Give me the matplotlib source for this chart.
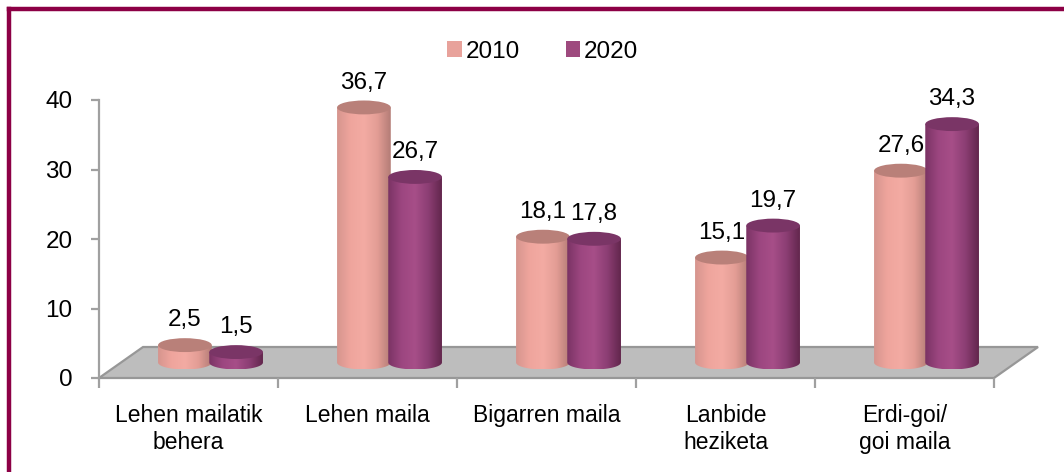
import numpy as np
import matplotlib
matplotlib.use("Agg")
import matplotlib.pyplot as plt
import matplotlib.patches as patches
from matplotlib.path import Path
from matplotlib.colors import LinearSegmentedColormap

plt.rcParams['font.family'] = ['Liberation Sans Narrow', 'Liberation Sans', 'DejaVu Sans']

# data
categories = ["Lehen mailatik\nbehera", "Lehen maila", "Bigarren maila",
              "Lanbide\nheziketa", "Erdi-goi/\ngoi maila"]
years = ["2010", "2020"]
values_2010 = [2.5, 36.7, 18.1, 15.1, 27.6]
values_2020 = [1.5, 26.7, 17.8, 19.7, 34.3]
yticks = [0, 10, 20, 30, 40]

# styles
legend_colors = ["#E8A29B", "#9E4A7E"]
body_cmaps = [
    LinearSegmentedColormap.from_list("c2010", ["#D6958E", "#EFA59D", "#F3ABA3", "#E39D95", "#B37C76"]),
    LinearSegmentedColormap.from_list("c2020", ["#7A3364", "#9C4680", "#A74E88", "#8C3E74", "#62264C"]),
]
top_colors = ["#B98079", "#7A3566"]

# 3d-ish geometry (data units)
floor_dx, floor_dy = 0.246, 4.46
bar_w = 0.30
offsets = [-0.143, 0.143]
ell_h = 1.0  # half height of the elliptic caps

fig = plt.figure(figsize=(10.64, 4.72), dpi=100)
ax = fig.add_axes([99 / 1064, 1 - 378 / 472, 895 / 1064, 278 / 472])
ax.set_xlim(0, 5)
ax.set_ylim(0, 40)

# floor
floor = patches.Polygon([(0, 0), (5, 0), (5 + floor_dx, floor_dy), (floor_dx, floor_dy)],
                        closed=True, facecolor="#BDBDBD", edgecolor="#979797",
                        linewidth=1.6, clip_on=False, zorder=1)
ax.add_patch(floor)

grad = np.linspace(0, 1, 256).reshape(1, -1)
base = floor_dy / 2

def cylinder(xc, val, k, z):
    x0, x1 = xc - bar_w / 2, xc + bar_w / 2
    top = base + val
    t = np.linspace(np.pi, 2 * np.pi, 60)
    arc = np.column_stack([xc + bar_w / 2 * np.cos(t), base + ell_h * np.sin(t)])
    verts = np.vstack([[x0, top], arc, [x1, top], [x0, top]])
    codes = [Path.MOVETO] + [Path.LINETO] * (len(verts) - 2) + [Path.CLOSEPOLY]
    body = patches.PathPatch(Path(verts, codes), facecolor="none", edgecolor="none",
                             transform=ax.transData)
    ax.add_patch(body)
    im = ax.imshow(grad, cmap=body_cmaps[k], aspect="auto",
                   extent=[x0, x1, base - ell_h, top], zorder=z, clip_on=True)
    im.set_clip_path(body)
    cap = patches.Ellipse((xc, top), bar_w, 2 * ell_h, facecolor=top_colors[k],
                          edgecolor="none", zorder=z + 0.1, clip_on=False)
    ax.add_patch(cap)
    ax.annotate(f"{val:.1f}".replace(".", ","), (xc, top + ell_h), xytext=(0, 5),
                textcoords="offset points", ha="center", va="bottom",
                fontsize=17.5, color="black", zorder=10, annotation_clip=False)

for i in range(len(categories)):
    cx = i + 0.5 + floor_dx / 2
    for k, vals in enumerate([values_2010, values_2020]):
        cylinder(cx + offsets[k], vals[i], k, 3 + k)

ax.set_xlim(0, 5)
ax.set_ylim(0, 40)

# axes styling
for s in ["top", "right", "bottom"]:
    ax.spines[s].set_visible(False)
ax.spines["left"].set_color("#A0A0A0")
ax.spines["left"].set_linewidth(1.6)
ax.set_yticks(yticks)
ax.set_yticklabels([str(v) for v in yticks], fontsize=17.5)
ax.tick_params(axis="y", length=6, width=1.6, color="#A0A0A0", pad=13)
ax.set_xticks(range(6))
ax.set_xticklabels([""] * 6)
ax.tick_params(axis="x", length=7, width=1.6, color="#A0A0A0")
ax.set_xticks([i + 0.5 for i in range(5)], minor=True)
ax.set_xticklabels(categories, minor=True, fontsize=16.5, linespacing=1.2)
ax.tick_params(axis="x", which="minor", length=0, pad=19)
ax.set_facecolor("none")

# legend
handles = [patches.Patch(facecolor=c, edgecolor="none") for c in legend_colors]
fig.legend(handles, years, loc="upper center", bbox_to_anchor=(0.51, 0.96), ncol=2,
           frameon=False, fontsize=17.5, handlelength=0.6, handleheight=0.6,
           handletextpad=0.15, columnspacing=1.9)

# frame (only left and top are visible in the crop)
fig.add_artist(plt.Line2D([9 / 1064, 9 / 1064], [0, 1 - 9 / 472], transform=fig.transFigure,
                          color="#8C0045", linewidth=3.2, solid_capstyle="projecting"))
fig.add_artist(plt.Line2D([9 / 1064, 1], [1 - 9 / 472, 1 - 9 / 472], transform=fig.transFigure,
                          color="#8C0045", linewidth=3.2, solid_capstyle="projecting"))

fig.savefig("out.png", dpi=100, facecolor="white")
